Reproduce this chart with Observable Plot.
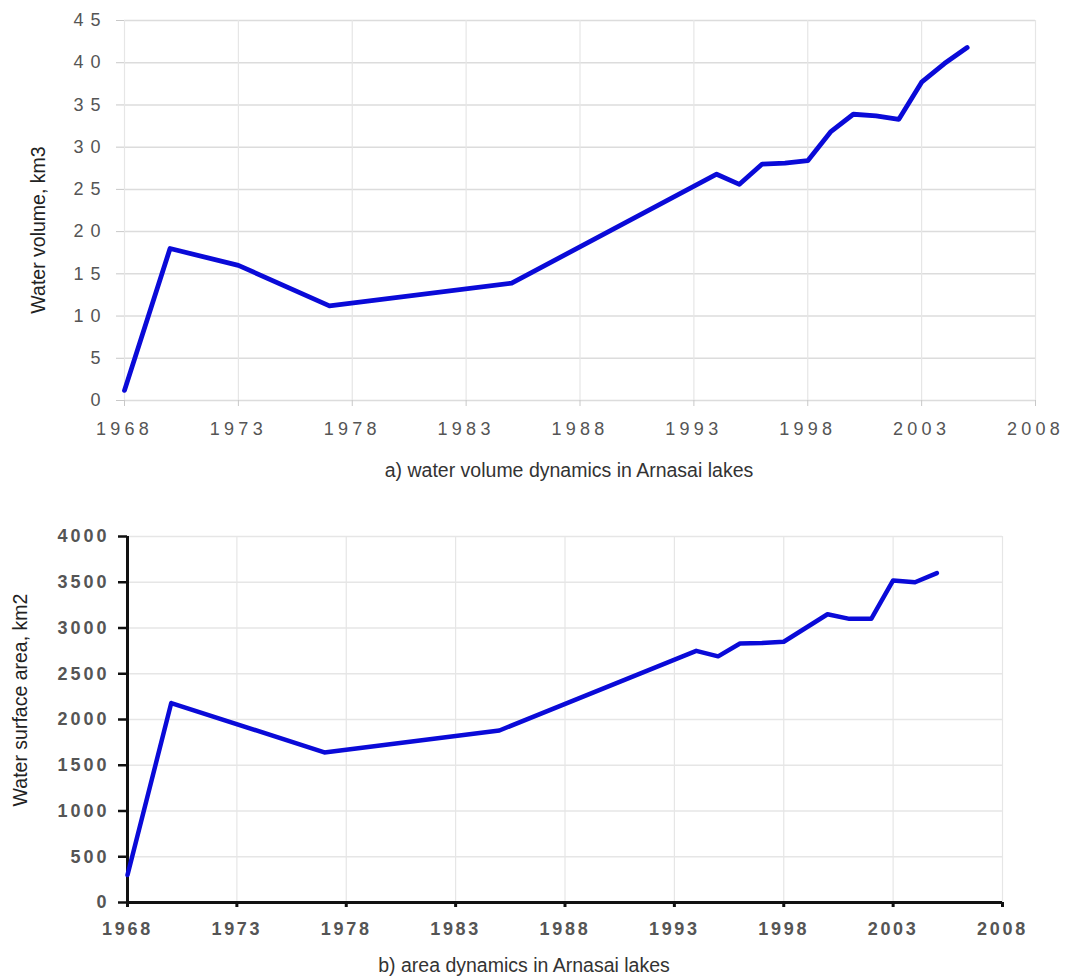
<!DOCTYPE html>
<html>
<head>
<meta charset="utf-8">
<script src="https://cdn.jsdelivr.net/npm/d3@7"></script>
<script src="https://cdn.jsdelivr.net/npm/@observablehq/plot@0.6"></script>
<style>
  html, body { margin: 0; padding: 0; background: #fff; overflow: hidden; }
  #wrap { position: relative; width: 1069px; height: 978px; font-family: "Liberation Sans", Arial, sans-serif; }
  .panel { position: absolute; left: 0; }
  .cap { position: absolute; transform: translate(-50%, -50%); white-space: nowrap; font-size: 19.5px; color: #333; z-index: 2; }
  .ylab { position: absolute; transform: translate(-50%, -50%) rotate(-90deg); white-space: nowrap; font-size: 19.5px; color: #222; z-index: 2; }
</style>
</head>
<body>
<div id="wrap">
  <div id="panelTop" class="panel" style="top:0"></div>
  <div id="panelBot" class="panel" style="top:480px"></div>
  <div class="ylab" style="left:38px; top:230px">Water volume, km3</div>
  <div class="cap" style="left:569px; top:470px">a) water volume dynamics in Arnasai lakes</div>
  <div class="ylab" style="left:20px; top:700px">Water surface area, km2</div>
  <div class="cap" style="left:524px; top:965px">b) area dynamics in Arnasai lakes</div>
</div>
<script>
// ---- data ----
const years = [1968, 1970, 1973, 1977, 1985, 1994, 1995, 1996, 1997, 1998, 1999, 2000, 2001, 2002, 2003, 2004, 2005];
const volume = [1.2, 18.0, 16.0, 11.2, 13.9, 26.8, 25.6, 28.0, 28.1, 28.4, 31.8, 33.9, 33.7, 33.3, 37.7, 39.9, 41.8];
const areaYears = [1968, 1970, 1977, 1985, 1994, 1995, 1996, 1997, 1998, 1999, 2000, 2001, 2002, 2003, 2004, 2005];
const area = [300, 2180, 1640, 1880, 2750, 2690, 2830, 2835, 2850, 3000, 3150, 3100, 3100, 3520, 3500, 3600];
const yearTicks = [1968, 1973, 1978, 1983, 1988, 1993, 1998, 2003, 2008];
const volumeTicks = [0, 5, 10, 15, 20, 25, 30, 35, 40, 45];
const areaTicks = [0, 500, 1000, 1500, 2000, 2500, 3000, 3500, 4000];

const volData = years.map((y, i) => ({year: y, v: volume[i]}));
const areaData = areaYears.map((y, i) => ({year: y, v: area[i]}));

const lineColor = "#0a0ad8";
const font = '"Liberation Sans", Arial, sans-serif';
const plain = d => String(d);

function spacing(svg, sel, ls) {
  svg.querySelectorAll(`g[aria-label="${sel}"] text`).forEach(t => t.setAttribute("letter-spacing", ls));
}

// ---- top chart ----
const chartTop = Plot.plot({
  width: 1069, height: 440,
  marginLeft: 124, marginRight: 34, marginTop: 20, marginBottom: 40,
  style: {fontFamily: font, fontSize: "18px", color: "#555", background: "transparent", overflow: "visible"},
  x: {domain: [1968, 2008]},
  y: {domain: [0, 45]},
  marks: [
    Plot.gridY(volumeTicks, {stroke: "#dcdcdc", strokeOpacity: 1, strokeWidth: 1.5}),
    Plot.gridX(yearTicks, {stroke: "#e6e6e6", strokeOpacity: 1, strokeWidth: 1.2}),
    Plot.axisY(volumeTicks, {tickSize: 8, tickPadding: 9, stroke: "#c8c8c8", fill: "#555", label: null, tickFormat: plain}),
    Plot.axisX(yearTicks, {tickSize: 6, tickPadding: 16, stroke: "#c8c8c8", fill: "#555", label: null, tickFormat: plain}),
    Plot.line(volData, {x: "year", y: "v", stroke: lineColor, strokeWidth: 4.8, strokeLinejoin: "round"})
  ]
});
spacing(chartTop, "y-axis tick label", "7");
spacing(chartTop, "x-axis tick label", "4.3");
document.getElementById("panelTop").appendChild(chartTop);

// ---- bottom chart ----
const chartBot = Plot.plot({
  width: 1069, height: 472,
  marginLeft: 127, marginRight: 67, marginTop: 56, marginBottom: 50,
  style: {fontFamily: font, fontSize: "18px", color: "#555", background: "transparent", overflow: "visible"},
  x: {domain: [1968, 2008]},
  y: {domain: [0, 4000]},
  marks: [
    Plot.gridY(areaTicks, {stroke: "#e6e6e6", strokeOpacity: 1, strokeWidth: 1.5}),
    Plot.gridX(yearTicks, {stroke: "#e6e6e6", strokeOpacity: 1, strokeWidth: 1.2}),
    Plot.ruleX([1968], {stroke: "#111", strokeWidth: 3}),
    Plot.ruleY([0], {stroke: "#111", strokeWidth: 3}),
    Plot.axisY(areaTicks, {tickSize: 9, tickPadding: 9, stroke: "#111", strokeWidth: 2.5, fill: "#555", fontWeight: "bold", label: null, tickFormat: plain}),
    Plot.axisX(yearTicks, {tickSize: 5, tickPadding: 15, stroke: "#111", strokeWidth: 3, fill: "#555", fontWeight: "bold", label: null, tickFormat: plain}),
    Plot.line(areaData, {x: "year", y: "v", stroke: lineColor, strokeWidth: 4.5, strokeLinejoin: "round"})
  ]
});
spacing(chartBot, "y-axis tick label", "3");
spacing(chartBot, "x-axis tick label", "2.7");
document.getElementById("panelBot").appendChild(chartBot);
</script>
</body>
</html>
